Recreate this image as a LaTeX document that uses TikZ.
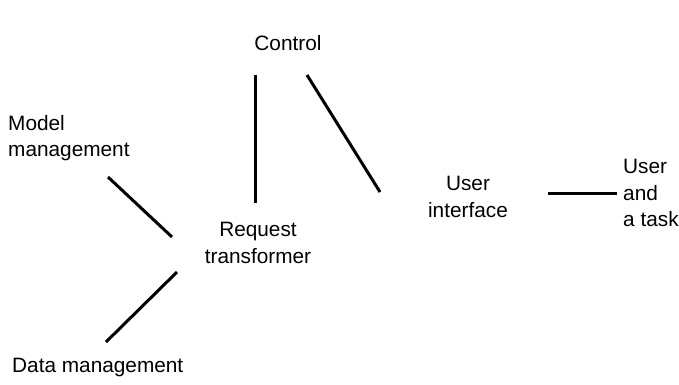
\documentclass[tikz,border=0pt]{standalone}
\usepackage{fontspec}
\setmainfont{Liberation Sans}
\begin{document}
\begin{tikzpicture}[x=1pt,y=-1pt,
  lbl/.style={font=\fontsize{20.8}{26.5}\selectfont, inner sep=0pt, align=center},
  lbll/.style={font=\fontsize{20.8}{26.5}\selectfont, inner sep=0pt, align=left},
  conn/.style={line width=3pt, black}]
\useasboundingbox (0,0) rectangle (679,384);
\node[lbl] (ctrl) at (288,43) {Control};
\node[lbll, anchor=west] (mm) at (8,138) {Model\\management};
\node[lbl] (rt) at (258,243) {Request\\transformer};
\node[lbll, anchor=west] (dm) at (12,367) {Data management};
\node[lbl] (ui) at (468,197) {User\\interface};
\node[lbll, anchor=west] (ut) at (623,193) {User\\and\\a task};
% connector end points
\coordinate (c1) at (255,75);  \coordinate (r1) at (255,203);
\coordinate (c2) at (307,75);  \coordinate (u1) at (380,192);
\coordinate (m1) at (108,177); \coordinate (r2) at (172,237);
\coordinate (d1) at (106,342); \coordinate (r3) at (177,272);
\coordinate (u2) at (548,193); \coordinate (t1) at (617,193);
\draw[conn] (c1) -- (r1);
\draw[conn] (c2) -- (u1);
\draw[conn] (m1) -- (r2);
\draw[conn] (d1) -- (r3);
\draw[conn] (u2) -- (t1);
\end{tikzpicture}
\end{document}
